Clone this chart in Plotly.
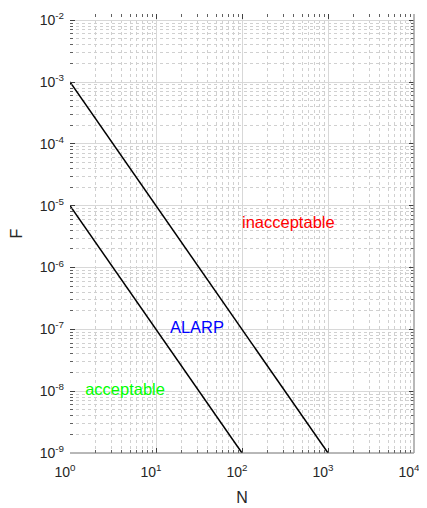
import plotly.graph_objects as go

# data
upper_N = [1, 1000]
upper_F = [1e-3, 1e-9]
lower_N = [1, 100]
lower_F = [1e-5, 1e-9]

label_text = ["inacceptable", "ALARP", "acceptable"]
label_N = [100, 14.5, 1.5]
label_F = [5e-6, 1e-7, 1e-8]
label_colors = ["#ff0000", "#0000ff", "#00ff00"]

x_exps = [0, 1, 2, 3, 4]
y_exps = [-9, -8, -7, -6, -5, -4, -3, -2]
minor_mults = [2, 3, 4, 5, 6, 7, 8, 9]

x_tickvals = [10.0 ** e for e in x_exps]
x_ticktext = [f"10<sup>{e}</sup>" for e in x_exps]
y_tickvals = [10.0 ** e for e in y_exps]
y_ticktext = [f"10<sup>{e}</sup>" for e in y_exps]
x_minor = [m * 10.0 ** e for e in x_exps[:-1] for m in minor_mults]
y_minor = [m * 10.0 ** e for e in y_exps for m in minor_mults]

FONT = "Liberation Sans, Arial, sans-serif"

fig = go.Figure()
fig.add_trace(go.Scatter(x=upper_N, y=upper_F, mode="lines",
                         line=dict(color="black", width=1.5), showlegend=False, hoverinfo="skip"))
fig.add_trace(go.Scatter(x=lower_N, y=lower_F, mode="lines",
                         line=dict(color="black", width=1.5), showlegend=False, hoverinfo="skip"))
for t, xx, yy, c in zip(label_text, label_N, label_F, label_colors):
    fig.add_trace(go.Scatter(x=[xx], y=[yy], mode="text", text=[t],
                             textposition="middle right",
                             textfont=dict(color=c, size=16.5, family=FONT),
                             showlegend=False, hoverinfo="skip"))

axis_common = dict(
    showgrid=True, gridcolor="#d8d8d8", gridwidth=1,
    ticks="inside", ticklen=5, tickcolor="#404040",
    mirror="allticks", showline=False, zeroline=False, automargin=False,
    ticklabeloverflow="allow",
    tickfont=dict(size=14, color="#262626", family=FONT),
)

fig.update_xaxes(type="log", range=[0, 4], tickvals=x_tickvals, ticktext=x_ticktext,
                 ticklabelstandoff=9, ticklabelshift=-5,
                 title=dict(text="N", font=dict(size=16, color="#262626", family=FONT), standoff=12),
                 minor=dict(tickvals=x_minor, showgrid=True, griddash="dot", gridcolor="#d0d0d0",
                            ticks="inside", ticklen=3, tickcolor="#606060"),
                 **axis_common)
fig.update_yaxes(type="log", range=[-9, -1.9], tickvals=y_tickvals, ticktext=y_ticktext,
                 ticklabelstandoff=5,
                 title=dict(text="F", font=dict(size=16, color="#262626", family=FONT), standoff=24),
                 minor=dict(tickvals=y_minor, showgrid=True, griddash="dot", gridcolor="#d0d0d0",
                            ticks="inside", ticklen=3, tickcolor="#606060"),
                 **axis_common)

fig.add_shape(type="line", xref="paper", yref="paper", x0=0, x1=1, y0=0, y1=0,
              line=dict(color="#707070", width=1))
fig.add_shape(type="line", xref="paper", yref="paper", x0=1, x1=1, y0=0, y1=1,
              line=dict(color="#a0a0a0", width=1.5))

fig.update_layout(
    width=419, height=500,
    margin=dict(l=62, r=13, t=6, b=55),
    paper_bgcolor="white", plot_bgcolor="white",
    font=dict(family=FONT),
)

fig.write_html("out.html")
